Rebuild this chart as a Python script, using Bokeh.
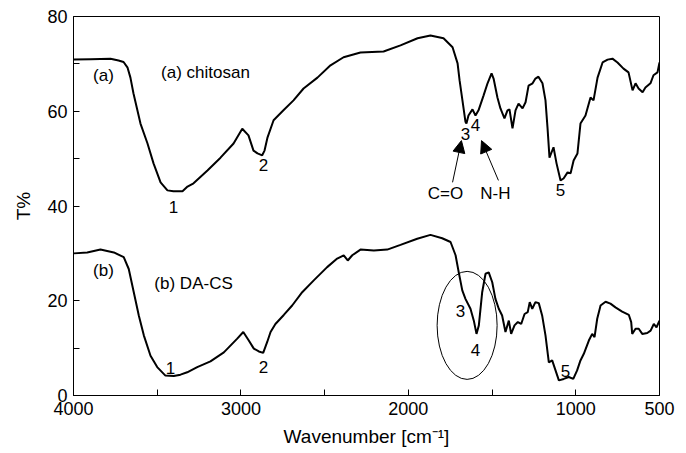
from bokeh.plotting import figure
from bokeh.models import Range1d, FixedTicker, Arrow, NormalHead
from bokeh.core.properties import value
from bokeh.embed import file_html
from bokeh.resources import INLINE

# ---- data: (a) chitosan ----
wn_a = [4000, 3898, 3779, 3731, 3701, 3677, 3660, 3642, 3600, 3558, 3522, 3480, 3439, 3403, 3349,
        3319, 3283, 3200, 3122, 3044, 2992, 2955, 2925, 2901, 2873, 2859, 2841, 2805, 2746, 2686,
        2626, 2543, 2465, 2387, 2286, 2148, 2047, 1945, 1868, 1790, 1736, 1706, 1694, 1677, 1659,
        1653, 1641, 1617, 1599, 1581, 1551, 1527, 1503, 1491, 1468, 1450, 1426, 1408, 1396, 1378,
        1360, 1342, 1318, 1300, 1282, 1258, 1241, 1223, 1199, 1181, 1169, 1157, 1133, 1115, 1091,
        1073, 1049, 1031, 1013, 990, 972, 942, 912, 894, 870, 840, 810, 781, 751, 715, 685, 661,
        643, 625, 601, 584, 554, 536, 512, 500]
t_a = [70.9, 71.0, 71.1, 70.7, 70.4, 69.2, 67.1, 63.8, 57.4, 53.2, 49.0, 45.0, 43.3, 43.1, 43.1,
       44.1, 44.8, 47.5, 50.2, 53.2, 56.3, 54.9, 51.7, 51.1, 50.7, 51.7, 54.5, 58.1, 60.2, 62.3,
       64.8, 67.1, 69.7, 71.4, 72.4, 72.6, 73.9, 75.4, 76.0, 75.4, 73.5, 70.1, 66.5, 62.3, 57.8,
       57.4, 59.1, 60.4, 59.1, 60.2, 63.3, 65.9, 68.0, 66.9, 62.9, 60.6, 58.5, 60.2, 60.4, 56.4,
       60.2, 61.6, 60.6, 61.9, 65.4, 65.9, 66.9, 67.3, 65.9, 62.3, 56.6, 50.2, 52.4, 49.0, 45.4,
       45.8, 47.1, 46.9, 49.6, 51.1, 57.4, 59.1, 62.9, 62.3, 67.1, 70.3, 70.9, 71.1, 70.3, 69.0,
       68.2, 64.4, 65.9, 64.8, 64.0, 65.0, 65.9, 67.6, 68.2, 70.3]

# ---- data: (b) DA-CS ----
wn_b = [3998, 3918, 3839, 3759, 3700, 3670, 3640, 3610, 3580, 3540, 3500, 3451, 3401, 3361, 3321,
        3261, 3182, 3102, 3022, 2986, 2953, 2923, 2893, 2867, 2843, 2823, 2794, 2744, 2694, 2634,
        2565, 2485, 2425, 2386, 2362, 2335, 2286, 2206, 2126, 2047, 1947, 1868, 1798, 1748, 1718,
        1699, 1678, 1659, 1629, 1609, 1593, 1579, 1559, 1539, 1520, 1499, 1480, 1460, 1440, 1420,
        1400, 1386, 1366, 1346, 1326, 1306, 1287, 1275, 1260, 1241, 1221, 1201, 1181, 1161, 1141,
        1121, 1101, 1072, 1042, 1015, 992, 972, 952, 922, 902, 888, 872, 852, 822, 793, 763, 723,
        683, 669, 663, 643, 624, 603, 573, 553, 534, 518, 500]
t_b = [30.0, 30.2, 30.8, 30.2, 29.2, 26.7, 21.8, 16.9, 12.7, 8.4, 6.0, 4.2, 4.1, 4.4, 4.9,
       6.0, 7.2, 9.1, 12.0, 13.4, 11.6, 9.9, 9.3, 9.0, 11.3, 13.4, 15.1, 17.0, 19.0, 21.8,
       24.3, 27.1, 28.9, 29.6, 28.5, 29.6, 30.8, 30.6, 30.8, 31.8, 33.1, 33.9, 33.2, 32.4, 29.6,
       26.0, 22.2, 20.4, 18.3, 15.8, 13.0, 14.8, 21.8, 25.7, 26.0, 23.9, 20.4, 18.3, 16.9, 13.4,
       15.8, 13.0, 14.8, 15.5, 15.1, 17.2, 17.6, 19.7, 18.3, 19.7, 19.5, 16.9, 12.7, 7.0, 7.4,
       5.3, 3.2, 3.5, 3.9, 3.5, 5.3, 7.4, 8.8, 11.6, 13.0, 12.3, 16.2, 19.0, 19.8, 19.4, 18.6, 17.7,
       17.0, 15.5, 13.0, 14.1, 14.1, 13.0, 13.2, 13.7, 15.1, 14.4, 15.8]

x_ticks = [4000, 3000, 2000, 1000, 500]
x_minor = [3500, 2500, 1500]
y_ticks = [0, 20, 40, 60, 80]
y_minor = [10, 30, 50, 70]

# annotation labels
lab_text = ["(a)", "(a) chitosan", "1", "2", "3", "4", "C=O", "N-H", "5",
            "(b)", "(b) DA-CS", "1", "2", "3", "4", "5"]
lab_x = [3821, 3212, 3403, 2865, 1659, 1599, 1778, 1480, 1091,
         3821, 3283, 3421, 2865, 1689, 1599, 1061]
lab_y = [67.5, 68.2, 39.7, 48.6, 55.3, 57.0, 42.6, 42.6, 43.3,
         26.4, 23.6, 5.9, 6.1, 17.9, 9.7, 5.1]

FONT = "Liberation Sans"

p = figure(width=686, height=453, output_backend="svg", toolbar_location=None,
           x_range=Range1d(4000, 500), y_range=Range1d(0, 80))
p.min_border_left = 73
p.min_border_right = 27
p.min_border_top = 16
p.min_border_bottom = 58
p.xgrid.visible = False
p.ygrid.visible = False
p.outline_line_color = "black"
p.outline_line_width = 1
p.background_fill_color = "white"
p.border_fill_color = "white"

p.xaxis.ticker = FixedTicker(ticks=x_ticks, minor_ticks=x_minor)
p.yaxis.ticker = FixedTicker(ticks=y_ticks, minor_ticks=y_minor)
for ax in (p.xaxis, p.yaxis):
    ax.major_tick_in = 6
    ax.major_tick_out = 0
    ax.minor_tick_in = 6
    ax.minor_tick_out = 0
    ax.axis_line_color = "black"
    ax.major_tick_line_color = "black"
    ax.minor_tick_line_color = "black"
    ax.major_label_text_font = FONT
    ax.major_label_text_font_size = "18px"
    ax.major_label_text_color = "black"
    ax.axis_label_text_font = FONT
    ax.axis_label_text_font_size = "19px"
    ax.axis_label_text_font_style = "normal"
    ax.axis_label_text_color = "black"
p.xaxis.major_label_standoff = 6
p.yaxis.major_label_standoff = 6
p.xaxis.axis_label = "Wavenumber [cm\u207b\u00b9]"
p.yaxis.axis_label = "T%"
p.xaxis.axis_label_standoff = 8
p.yaxis.axis_label_standoff = 10

p.line(wn_a, t_a, line_color="black", line_width=2)
p.line(wn_b, t_b, line_color="black", line_width=2)

p.ellipse(x=[1649], y=[14.8], width=60, height=108, width_units="screen", height_units="screen",
          fill_color=None, line_color="black", line_width=1)

p.text(x=lab_x, y=lab_y, text=lab_text, text_align="center", text_baseline="middle",
       text_font=value(FONT), text_font_size="17px", text_color="black")

p.add_layout(Arrow(end=NormalHead(size=12, fill_color="black", line_color="black"),
                   x_start=1736, y_start=45.0, x_end=1683, y_end=53.8, line_width=1))
p.add_layout(Arrow(end=NormalHead(size=12, fill_color="black", line_color="black"),
                   x_start=1462, y_start=45.4, x_end=1563, y_end=53.8, line_width=1))

open("out.html", "w").write(file_html(p, INLINE))
